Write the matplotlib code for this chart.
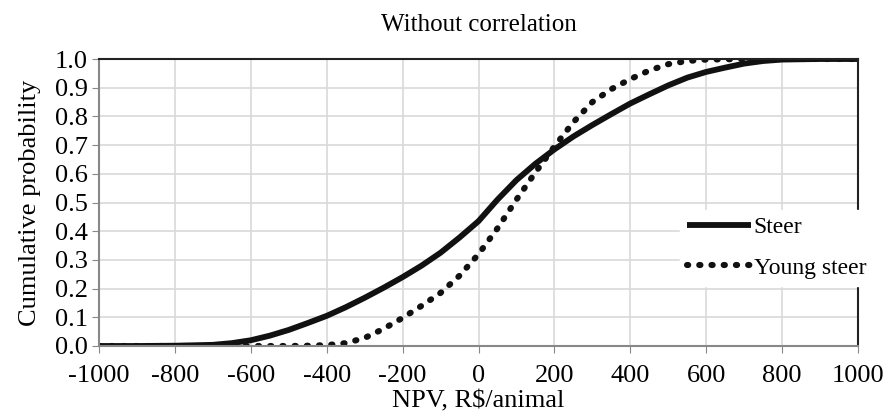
import matplotlib
matplotlib.use("Agg")
import matplotlib.pyplot as plt

plt.rcParams['font.family'] = ['Liberation Serif', 'DejaVu Serif']

# cumulative distributions
steer_x = [-1000, -900, -800, -700, -650, -600, -550, -500, -450, -400, -350, -300, -250,
           -200, -150, -100, -50, 0, 50, 100, 150, 200, 250, 300, 350, 400, 450,
           500, 550, 600, 650, 700, 750, 800, 900, 1000]
steer_y = [0.0, 0.0, 0.001, 0.004, 0.01, 0.02, 0.036, 0.056, 0.08, 0.105, 0.135, 0.168, 0.203,
           0.24, 0.28, 0.325, 0.378, 0.435, 0.51, 0.578, 0.635, 0.685, 0.73, 0.77, 0.808, 0.845, 0.877,
           0.908, 0.935, 0.955, 0.97, 0.984, 0.993, 0.998, 1.0, 1.0]

young_x = [-1000, -900, -800, -700, -600, -500, -450, -400, -350, -300, -250, -200, -150,
           -100, -50, 0, 50, 100, 150, 200, 250, 300, 350, 400, 450, 500, 550,
           600, 700, 800, 900, 1000]
young_y = [0.0, 0.0, 0.0, 0.0, 0.0, 0.0, 0.001, 0.003, 0.01, 0.028, 0.06, 0.098, 0.14,
           0.185, 0.245, 0.32, 0.41, 0.51, 0.605, 0.695, 0.78, 0.85, 0.895, 0.93, 0.96, 0.982, 0.993,
           0.998, 1.0, 1.0, 1.0, 1.0]

xticks = list(range(-1000, 1001, 200))
yticks = [i / 10 for i in range(11)]

fig = plt.figure(figsize=(8.85, 4.2), dpi=100)
ax = fig.add_axes([99 / 885, 1 - 346 / 420, (858 - 99) / 885, (346 - 59) / 420])

ax.plot(steer_x, steer_y, color='#111111', lw=4.2, label='Steer', solid_capstyle='butt')
ax.plot(young_x, young_y, color='#111111', lw=4.4, linestyle=(0, (0.2, 1.8)),
        dash_capstyle='round', label='Young steer')

ax.set_xlim(-1000, 1000)
ax.set_ylim(0, 1)
ax.set_xticks(xticks)
ax.set_yticks(yticks)
ax.set_xticklabels([str(t) for t in xticks])
ax.set_yticklabels(['%.1f' % t for t in yticks])
ax.grid(True, color='#d9d9d9', lw=1.2)
ax.set_axisbelow(True)

for s in ['top', 'right']:
    ax.spines[s].set_color('#222222')
    ax.spines[s].set_linewidth(1.5)
for s in ['left', 'bottom']:
    ax.spines[s].set_color('#888888')
    ax.spines[s].set_linewidth(1.5)
ax.tick_params(axis='both', direction='out', length=5, color='#888888', labelsize=19)
ax.tick_params(axis='x', pad=9)
ax.tick_params(axis='y', pad=3)

ax.set_title('Without correlation', fontsize=18, pad=20)
ax.set_xlabel('NPV, R$/animal', fontsize=19, labelpad=2)
ax.set_ylabel('Cumulative probability', fontsize=19, labelpad=10)

leg = ax.legend(loc='lower right', bbox_to_anchor=(1.02, 0.21), fontsize=17, frameon=True,
                fancybox=False, edgecolor='white', framealpha=1, handlelength=2.7,
                handletextpad=0.1, borderpad=0.3, labelspacing=0.8, borderaxespad=0)
leg.set_zorder(5)

fig.savefig('out.png', dpi=100)
